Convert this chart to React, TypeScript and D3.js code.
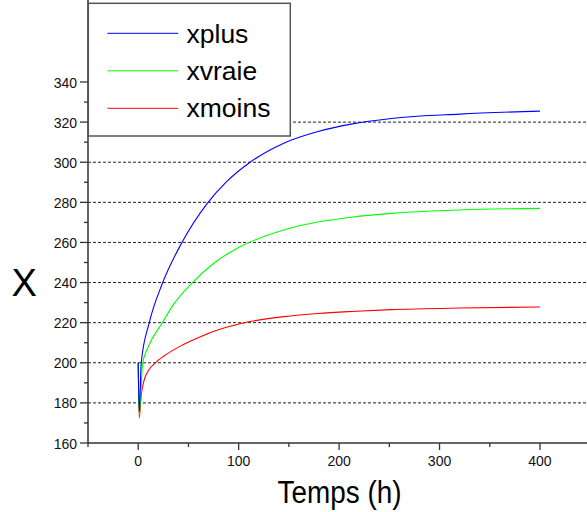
import React from "react";
import * as d3 from "d3";

const W = 587;
const H = 512;

// Time (h) and values
const tPlus = [0, 1, 3, 11, 24, 43, 68, 88, 110, 145, 179, 212, 252, 320, 400];
const xPlus = [200, 175.5, 200, 220, 239.5, 259.5, 279, 290.3, 299.5, 309.5, 315.3, 319, 321.8, 324, 325.5];

const tVraie = [0, 1, 4.5, 10, 24, 35, 54, 75, 100, 125, 150, 180, 212, 252, 320, 400];
const xVraie = [200, 174, 200, 208, 220, 229, 240, 249.5, 257.5, 263, 267, 270.3, 272.6, 274.5, 276.2, 277];

const tMoins = [0, 1, 3, 6, 10, 17, 26, 42, 62, 79, 109, 145, 179, 212, 252, 320, 400];
const xMoins = [200, 172.5, 184, 191.5, 196, 200, 203.5, 208.3, 213, 216.3, 220.3, 223, 224.6, 225.6, 226.5, 227.3, 227.8];

const seriesNames = ["xplus", "xvraie", "xmoins"];
const seriesColors = ["#0000ff", "#00ff00", "#ff0000"];

const xMajorTicks = [0, 100, 200, 300, 400];
const xMinorTicks = [-50, 50, 150, 250, 350, 450];
const yMajorTicks = [160, 180, 200, 220, 240, 260, 280, 300, 320, 340];
const yMinorTicks = [170, 190, 210, 230, 250, 270, 290, 310, 330];
const gridValues = [180, 200, 220, 240, 260, 280, 300, 320];

const FONT = "'Liberation Sans', Arial, sans-serif";

export default function App() {
  const x = d3.scaleLinear().domain([-50, 450]).range([88, 590.2]);
  const y = d3.scaleLinear().domain([160, 340]).range([443, 82]);

  const line = d3
    .line<[number, number]>()
    .x((d) => x(d[0]))
    .y((d) => y(d[1]))
    .curve(d3.curveMonotoneX);

  const series = [
    { t: tPlus, v: xPlus },
    { t: tVraie, v: xVraie },
    { t: tMoins, v: xMoins },
  ];

  const drawOrder = [2, 1, 0];

  return (
    <svg
      width={W}
      height={H}
      style={{ position: "absolute", left: 0, top: 0, background: "#fff" }}
      fontFamily={FONT}
    >
      <rect x={0} y={0} width={W} height={H} fill="#fff" />
      {/* grid */}
      {gridValues.map((g) => (
        <line
          key={"g" + g}
          x1={x(-50)}
          x2={W}
          y1={y(g)}
          y2={y(g)}
          stroke="#222"
          strokeWidth={1}
          strokeDasharray="3,2"
        />
      ))}
      {/* curves */}
      {drawOrder.map((i) => (
        <path
          key={"s" + i}
          d={line(series[i].t.map((t, k) => [t, series[i].v[k]] as [number, number])) || ""}
          fill="none"
          stroke={seriesColors[i]}
          strokeWidth={1.1}
        />
      ))}
      {/* axes */}
      <line x1={88} x2={88} y1={0} y2={443} stroke="#333" strokeWidth={1.5} />
      <line x1={88} x2={W} y1={443} y2={443} stroke="#333" strokeWidth={1.5} />
      {yMajorTicks.map((v) => (
        <g key={"ym" + v}>
          <line x1={80} x2={88} y1={y(v)} y2={y(v)} stroke="#333" strokeWidth={1.3} />
          <text x={77} y={y(v) + 5.5} fontSize={14} textAnchor="end" fill="#111">
            {v}
          </text>
        </g>
      ))}
      {yMinorTicks.map((v) => (
        <line key={"yn" + v} x1={84} x2={88} y1={y(v)} y2={y(v)} stroke="#333" strokeWidth={1.3} />
      ))}
      {xMajorTicks.map((v) => (
        <g key={"xm" + v}>
          <line x1={x(v)} x2={x(v)} y1={443} y2={450} stroke="#333" strokeWidth={1.3} />
          <text x={x(v)} y={466} fontSize={14} textAnchor="middle" fill="#111">
            {v}
          </text>
        </g>
      ))}
      {xMinorTicks.map((v) => (
        <line key={"xn" + v} x1={x(v)} x2={x(v)} y1={443} y2={447} stroke="#333" strokeWidth={1.3} />
      ))}
      {/* axis titles */}
      <text x={24.3} y={296} fontSize={38} textAnchor="middle" fill="#000">
        X
      </text>
      <text
        x={339.5}
        y={503}
        fontSize={31}
        textAnchor="middle"
        fill="#000"
        textLength={124}
        lengthAdjust="spacingAndGlyphs"
      >
        Temps (h)
      </text>
      {/* legend */}
      <rect x={88.3} y={3.3} width={202} height={132.7} fill="#fff" stroke="#555" strokeWidth={1.5} />
      {seriesNames.map((n, i) => (
        <g key={"l" + n}>
          <line
            x1={107.3}
            x2={178.3}
            y1={33.3 + i * 37.5}
            y2={33.3 + i * 37.5}
            stroke={seriesColors[i]}
            strokeWidth={1}
          />
          <text x={186.5} y={43.3 + i * 37} fontSize={26.5} fill="#000">
            {n}
          </text>
        </g>
      ))}
    </svg>
  );
}
